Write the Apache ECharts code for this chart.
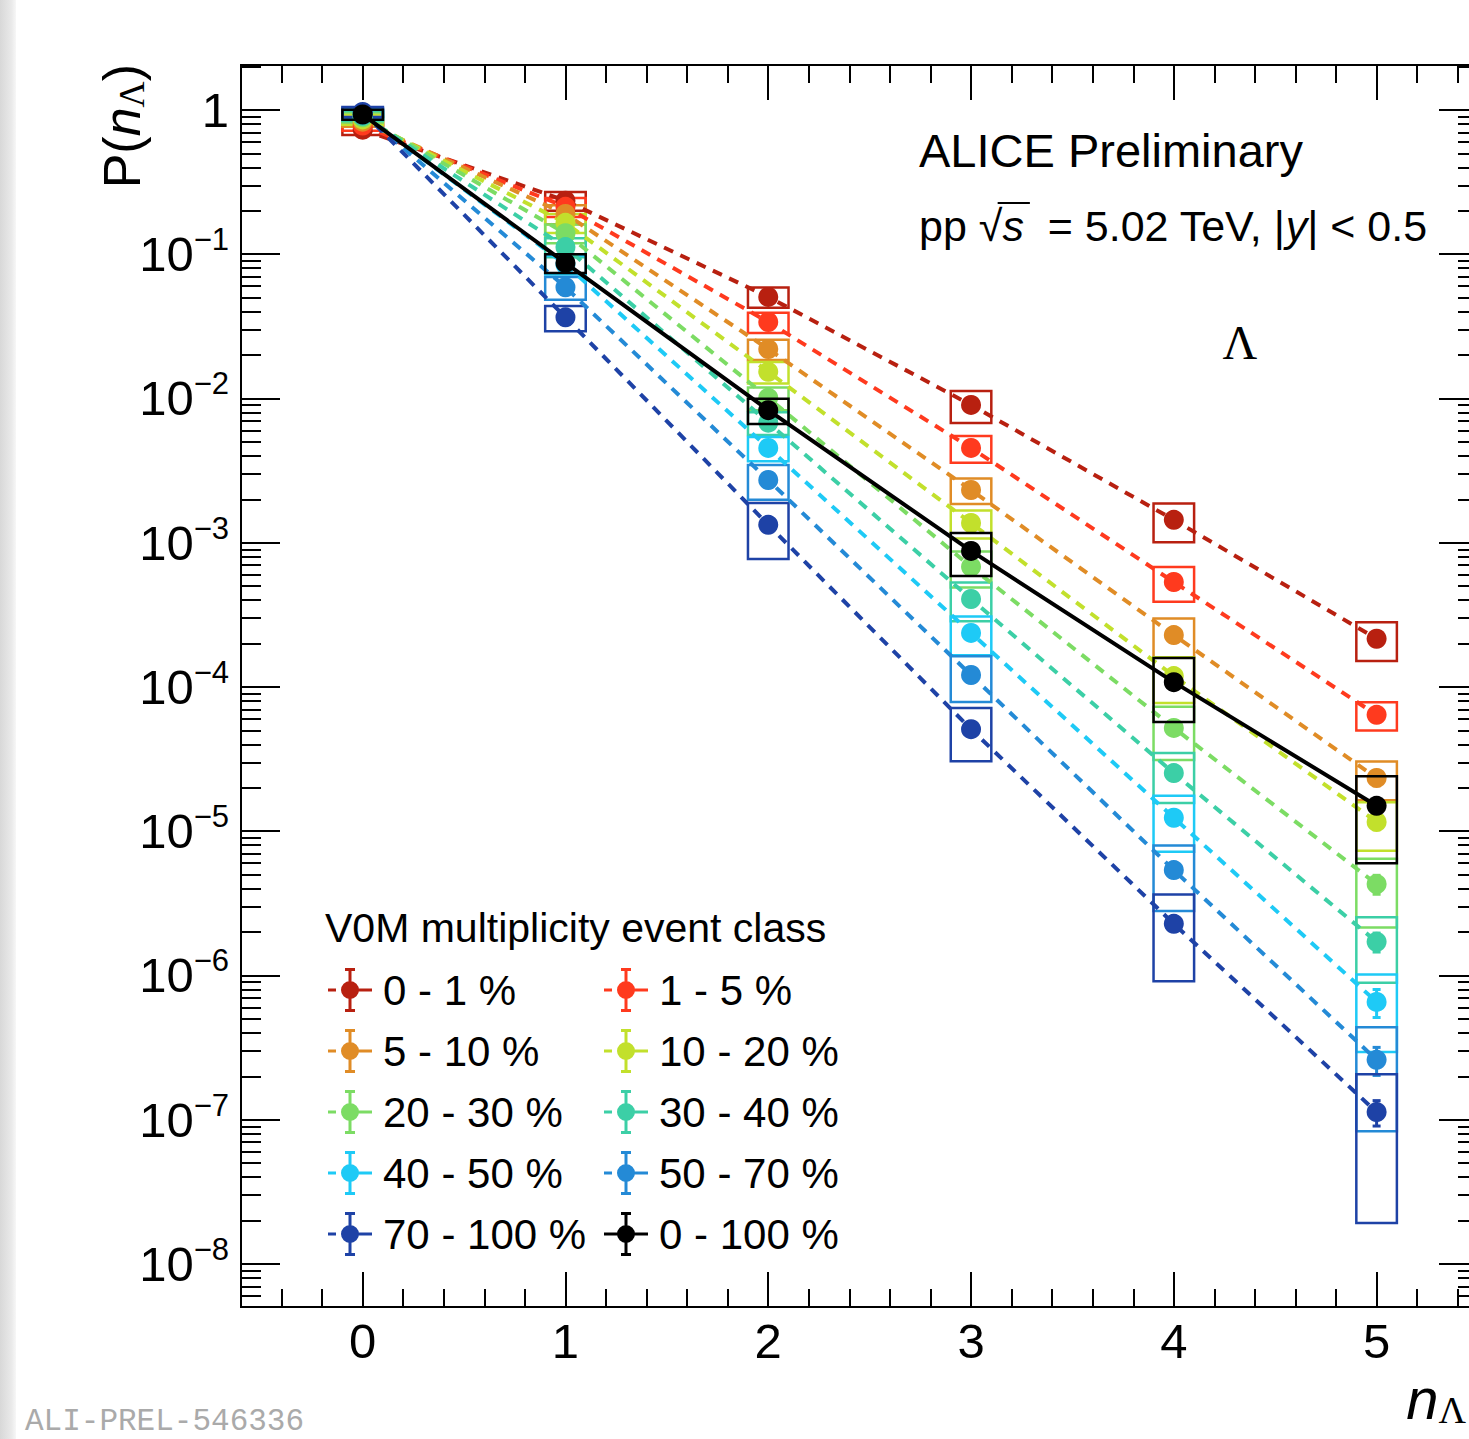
<!DOCTYPE html>
<html><head><meta charset="utf-8">
<script src="https://cdn.jsdelivr.net/npm/echarts@6/dist/echarts.min.js"></script>
<style>html,body{margin:0;padding:0;background:#fff}#c{width:1469px;height:1439px}</style>
</head><body><div id="c"></div>
<script>
// ---------------- data ----------------
const nLambda = [0, 1, 2, 3, 4, 5];
const classNames = ['0 - 1 %','1 - 5 %','5 - 10 %','10 - 20 %','20 - 30 %','30 - 40 %','40 - 50 %','50 - 70 %','70 - 100 %','0 - 100 %'];
const classColors = ['#B82010','#FF3A1E','#E08C26','#C2E02C','#7CDC64','#3CCFA6','#1ECAF6','#248AD6','#1E42A6','#000000'];

// P(n_Lambda) per V0M class
const p_0_1    = [0.73, 0.235, 0.0506, 0.00902, 0.00144, 2.16e-4];
const p_1_5    = [0.78, 0.213, 0.0339, 0.00454, 5.34e-4, 6.41e-5];
const p_5_10   = [0.83, 0.190, 0.0220, 0.00232, 2.29e-4, 2.34e-5];
const p_10_20  = [0.86, 0.165, 0.0153, 0.00137, 1.19e-4, 1.16e-5];
const p_20_30  = [0.89, 0.140, 0.0101, 6.8e-4, 5.2e-5, 4.3e-6];
const p_30_40  = [0.91, 0.112, 0.0068, 4.07e-4, 2.53e-5, 1.71e-6];
const p_40_50  = [0.93, 0.085, 0.00454, 2.37e-4, 1.24e-5, 6.55e-7];
const p_50_70  = [0.95, 0.059, 0.00272, 1.21e-4, 5.38e-6, 2.6e-7];
const p_70_100 = [0.97, 0.0365, 0.00133, 5.1e-5, 2.28e-6, 1.13e-7];
const p_0_100  = [0.93, 0.087, 0.0083, 8.77e-4, 1.08e-4, 1.50e-5];

// relative systematic uncertainties (boxes)
const sys_0_1    = [0.08, 0.15, 0.16, 0.25, 0.30, 0.30];
const sys_1_5    = [0.08, 0.15, 0.16, 0.21, 0.27, 0.22];
const sys_5_10   = [0.08, 0.15, 0.16, 0.20, 0.30, 0.30];
const sys_10_20  = [0.08, 0.15, 0.17, 0.22, 0.35, 0.37];
const sys_20_30  = [0.08, 0.15, 0.18, 0.28, 0.40, 0.50];
const sys_30_40  = [0.08, 0.15, 0.18, 0.30, 0.38, 0.48];
const sys_40_50  = [0.08, 0.15, 0.19, 0.30, 0.42, 0.55];
const sys_50_70  = [0.08, 0.18, 0.27, 0.35, 0.48, 0.68];
const sys_70_100 = [0.08, 0.20, 0.42, 0.40, 0.60, 0.83];
const sys_0_100  = [0.08, 0.15, 0.20, 0.33, 0.47, 0.60];

// relative statistical uncertainties (error bars)
const stat_0_1    = [0.002, 0.004, 0.01, 0.02, 0.04, 0.08];
const stat_1_5    = [0.002, 0.004, 0.01, 0.02, 0.05, 0.10];
const stat_5_10   = [0.002, 0.004, 0.01, 0.02, 0.05, 0.12];
const stat_10_20  = [0.002, 0.004, 0.01, 0.03, 0.06, 0.12];
const stat_20_30  = [0.002, 0.004, 0.01, 0.03, 0.07, 0.15];
const stat_30_40  = [0.002, 0.004, 0.01, 0.03, 0.08, 0.15];
const stat_40_50  = [0.002, 0.004, 0.01, 0.03, 0.08, 0.22];
const stat_50_70  = [0.002, 0.004, 0.01, 0.04, 0.10, 0.22];
const stat_70_100 = [0.002, 0.004, 0.01, 0.04, 0.10, 0.20];
const stat_0_100  = [0.001, 0.002, 0.005, 0.01, 0.02, 0.05];

const probs = [p_0_1,p_1_5,p_5_10,p_10_20,p_20_30,p_30_40,p_40_50,p_50_70,p_70_100,p_0_100];
const systs = [sys_0_1,sys_1_5,sys_5_10,sys_10_20,sys_20_30,sys_30_40,sys_40_50,sys_50_70,sys_70_100,sys_0_100];
const stats = [stat_0_1,stat_1_5,stat_5_10,stat_10_20,stat_20_30,stat_30_40,stat_40_50,stat_50_70,stat_70_100,stat_0_100];

// axes
const xMin = -0.6, xMax = 5.5;
const yMin = 5.03e-9, yMax = 2.05;
const xMajorTicks = [0, 1, 2, 3, 4, 5];
const xMinorTicks = [-0.4,-0.2,0.2,0.4,0.6,0.8,1.2,1.4,1.6,1.8,2.2,2.4,2.6,2.8,3.2,3.4,3.6,3.8,4.2,4.4,4.6,4.8,5.2,5.4];
const yDecades = [1e-8, 1e-7, 1e-6, 1e-5, 1e-4, 1e-3, 1e-2, 1e-1, 1];
const yMinorTicks = [];
for (let e = -9; e <= 0; e++) for (let m = 2; m <= 9; m++) {
  const v = m * Math.pow(10, e);
  if (v > yMin && v < yMax) yMinorTicks.push(v);
}

// ---------------- style ----------------
const FONT = '"Liberation Sans", Arial, Helvetica, sans-serif';
const SERIF = '"Liberation Serif", "Times New Roman", serif';
const BOX_HALF = 0.1;

function xAx(pos, ticks, len, labels) {
  return {
    type: 'value', position: pos, min: xMin, max: xMax, gridIndex: 0,
    axisLine: { show: true, onZero: false, lineStyle: { color: '#000', width: 2 } },
    axisTick: { show: true, inside: true, length: len, customValues: ticks, lineStyle: { color: '#000', width: 2 } },
    axisLabel: labels ? { show: true, customValues: labels, margin: 9, color: '#000', fontSize: 49, fontFamily: FONT } : { show: false },
    splitLine: { show: false }, minorTick: { show: false }, minorSplitLine: { show: false }
  };
}
function yAx(pos, ticks, len, labels) {
  return {
    type: 'log', logBase: 10, position: pos, min: yMin, max: yMax, gridIndex: 0,
    axisLine: { show: true, onZero: false, lineStyle: { color: '#000', width: 2 } },
    axisTick: { show: true, inside: true, length: len, customValues: ticks, lineStyle: { color: '#000', width: 2 } },
    axisLabel: labels ? {
      show: true, customValues: labels, margin: 12, color: '#000', fontSize: 49, fontFamily: FONT,
      formatter: v => {
        if (Math.abs(v - 1) < 1e-9) return '1';
        const e = Math.round(Math.log10(v));
        return '{b|10}{s|\u2212' + (-e) + '}';
      },
      rich: {
        b: { fontSize: 49, lineHeight: 60, fontFamily: FONT, color: '#000' },
        s: { fontSize: 31, lineHeight: 31, verticalAlign: 'top', fontFamily: FONT, color: '#000' }
      }
    } : { show: false },
    splitLine: { show: false }, minorTick: { show: false }, minorSplitLine: { show: false }
  };
}

const series = [];
classNames.forEach((name, i) => {
  const color = classColors[i];
  const isAll = i === classNames.length - 1;
  const zb = isAll ? 4 : 2;
  series.push({
    type: 'custom', name: name + ' syst', xAxisIndex: 0, yAxisIndex: 0, z: zb, silent: true,
    data: nLambda.map((x, k) => [x, probs[i][k], systs[i][k]]),
    encode: { x: 0, y: 1 },
    renderItem: (params, api) => {
      const x = api.value(0), v = api.value(1), e = api.value(2);
      const a = api.coord([x - BOX_HALF, v * (1 + e)]);
      const b = api.coord([x + BOX_HALF, v * (1 - e)]);
      return { type: 'rect', shape: { x: a[0], y: a[1], width: b[0] - a[0], height: b[1] - a[1] },
        style: { fill: 'none', stroke: color, lineWidth: 2.5 } };
    }
  });
  series.push({
    type: 'custom', name: name + ' stat', xAxisIndex: 0, yAxisIndex: 0, z: zb, silent: true,
    data: nLambda.map((x, k) => [x, probs[i][k], stats[i][k]]),
    encode: { x: 0, y: 1 },
    renderItem: (params, api) => {
      const x = api.value(0), v = api.value(1), s = api.value(2);
      const t = api.coord([x, v * (1 + s)]);
      const b = api.coord([x, v * (1 - s)]);
      const st = { stroke: color, lineWidth: 3 };
      return { type: 'group', children: [
        { type: 'line', shape: { x1: t[0], y1: t[1], x2: b[0], y2: b[1] }, style: st },
        { type: 'line', shape: { x1: t[0] - 4, y1: t[1], x2: t[0] + 4, y2: t[1] }, style: st },
        { type: 'line', shape: { x1: b[0] - 4, y1: b[1], x2: b[0] + 4, y2: b[1] }, style: st }
      ] };
    }
  });
  series.push({
    type: 'line', name: name, xAxisIndex: 0, yAxisIndex: 0, z: isAll ? 5 : 3,
    data: nLambda.map((x, k) => [x, probs[i][k]]),
    symbol: 'circle', symbolSize: 20, showSymbol: true,
    itemStyle: { color: color, borderWidth: 0 },
    lineStyle: { color: color, width: 4, type: isAll ? 'solid' : [10, 8] },
    emphasis: { disabled: true }
  });
});

const ICON_COL = 'path://M0 20.5h8v3h-8z M22 20.5h22v3h-22z M20.5 2h3v40h-3z M17 0h10v3h-10z M17 41h10v3h-10z M13 22a9 9 0 1 1 18 0a9 9 0 1 1 -18 0z';
const ICON_ALL = 'path://M0 20.5h44v3h-44z M20.5 2h3v40h-3z M17 0h10v3h-10z M17 41h10v3h-10z M13 22a9 9 0 1 1 18 0a9 9 0 1 1 -18 0z';
function legendCol(names, left) {
  return {
    orient: 'vertical', left: left, top: 968, itemWidth: 44, itemHeight: 44, itemGap: 17,
    selectedMode: false, padding: 0,
    data: names.map(n => ({ name: n, icon: n === '0 - 100 %' ? ICON_ALL : ICON_COL })),
    itemStyle: { borderWidth: 0 },
    textStyle: { fontSize: 42, color: '#000', fontFamily: FONT, padding: [0, 0, 0, 6] }
  };
}
const col1 = classNames.filter((n, i) => i % 2 === 0);
const col2 = classNames.filter((n, i) => i % 2 === 1);

// overline of sqrt(s)
const mctx = document.createElement('canvas').getContext('2d');
function tw(t, f) { mctx.font = f; return mctx.measureText(t).width; }
const ppW = tw('pp ', '43px "Liberation Sans"');
const radW = tw('\u221A', '43px "Liberation Sans"');
const sW = tw('s', 'italic 43px "Liberation Sans"');
const olX1 = 919 + ppW + radW * 0.8, olX2 = 919 + ppW + radW + sW + 6;

const graphic = [
  { type: 'rect', left: 0, top: 0, shape: { width: 16, height: 1439 }, z: -10,
    style: { fill: new echarts.graphic.LinearGradient(0, 0, 1, 0, [{ offset: 0, color: '#d8d8d8' }, { offset: 0.7, color: '#e9e9e9' }, { offset: 1, color: '#f7f7f7' }]) } },
  { type: 'text', x: 919, y: 150, style: { text: 'ALICE Preliminary', fontSize: 47, fontFamily: FONT, fill: '#000', textVerticalAlign: 'middle' } },
  { type: 'text', x: 919, y: 226, style: {
      text: '{a|pp }{a|\u221A}{i|s}{a|  = 5.02 TeV, |}{i|y}{a|| < 0.5}',
      rich: { a: { fontSize: 43, fontFamily: FONT, fill: '#000' }, i: { fontSize: 43, fontFamily: FONT, fontStyle: 'italic', fill: '#000' } },
      textVerticalAlign: 'middle' } },
  { type: 'line', shape: { x1: olX1, y1: 203, x2: olX2, y2: 203 }, style: { stroke: '#000', lineWidth: 2 } },
  { type: 'text', x: 1240, y: 342, style: { text: '\u039B', fontSize: 48, fontFamily: SERIF, fill: '#000', textAlign: 'center', textVerticalAlign: 'middle' } },
  { type: 'text', x: 325, y: 928, style: { text: 'V0M multiplicity event class', fontSize: 41, fontFamily: FONT, fill: '#000', textVerticalAlign: 'middle' } },
  { type: 'text', x: 122, y: 64, rotation: Math.PI / 2, style: {
      text: '{a|P(}{i|n}{s|\u039B}{a|)}',
      rich: { a: { fontSize: 52, lineHeight: 56, fontFamily: FONT, fill: '#000' },
              i: { fontSize: 52, lineHeight: 56, fontFamily: FONT, fontStyle: 'italic', fill: '#000' },
              s: { fontSize: 36, lineHeight: 36, fontFamily: SERIF, fill: '#000', verticalAlign: 'bottom' } },
      textAlign: 'right', textVerticalAlign: 'middle' } },
  { type: 'text', x: 1466, y: 1398, style: {
      text: '{i|n}{s|\u039B}',
      rich: { i: { fontSize: 58, lineHeight: 62, fontFamily: FONT, fontStyle: 'italic', fill: '#000' },
              s: { fontSize: 38, lineHeight: 38, fontFamily: SERIF, fill: '#000', verticalAlign: 'bottom' } },
      textAlign: 'right', textVerticalAlign: 'middle' } },
  { type: 'text', x: 25, y: 1437, style: { text: 'ALI-PREL-546336', fontSize: 31, fontFamily: '"Liberation Mono", "DejaVu Sans Mono", monospace', fill: '#aaaaaa', textVerticalAlign: 'bottom' } }
];

const chart = echarts.init(document.getElementById('c'), null, { renderer: 'svg', width: 1469, height: 1439 });
chart.setOption({
  animation: false,
  backgroundColor: '#fff',
  grid: { left: 241, top: 65, width: 1237, height: 1242, containLabel: false, outerBoundsMode: 'none' },
  xAxis: [ xAx('bottom', xMajorTicks, 35, xMajorTicks), xAx('bottom', xMinorTicks, 18, null),
           xAx('top', xMajorTicks, 35, null), xAx('top', xMinorTicks, 18, null) ],
  yAxis: [ yAx('left', yDecades, 39, yDecades), yAx('left', yMinorTicks, 20, null),
           yAx('right', yDecades, 39, null), yAx('right', yMinorTicks, 20, null) ],
  legend: [ legendCol(col1, 328), legendCol(col2, 604) ],
  graphic: { elements: graphic },
  series: series
});
</script></body></html>
